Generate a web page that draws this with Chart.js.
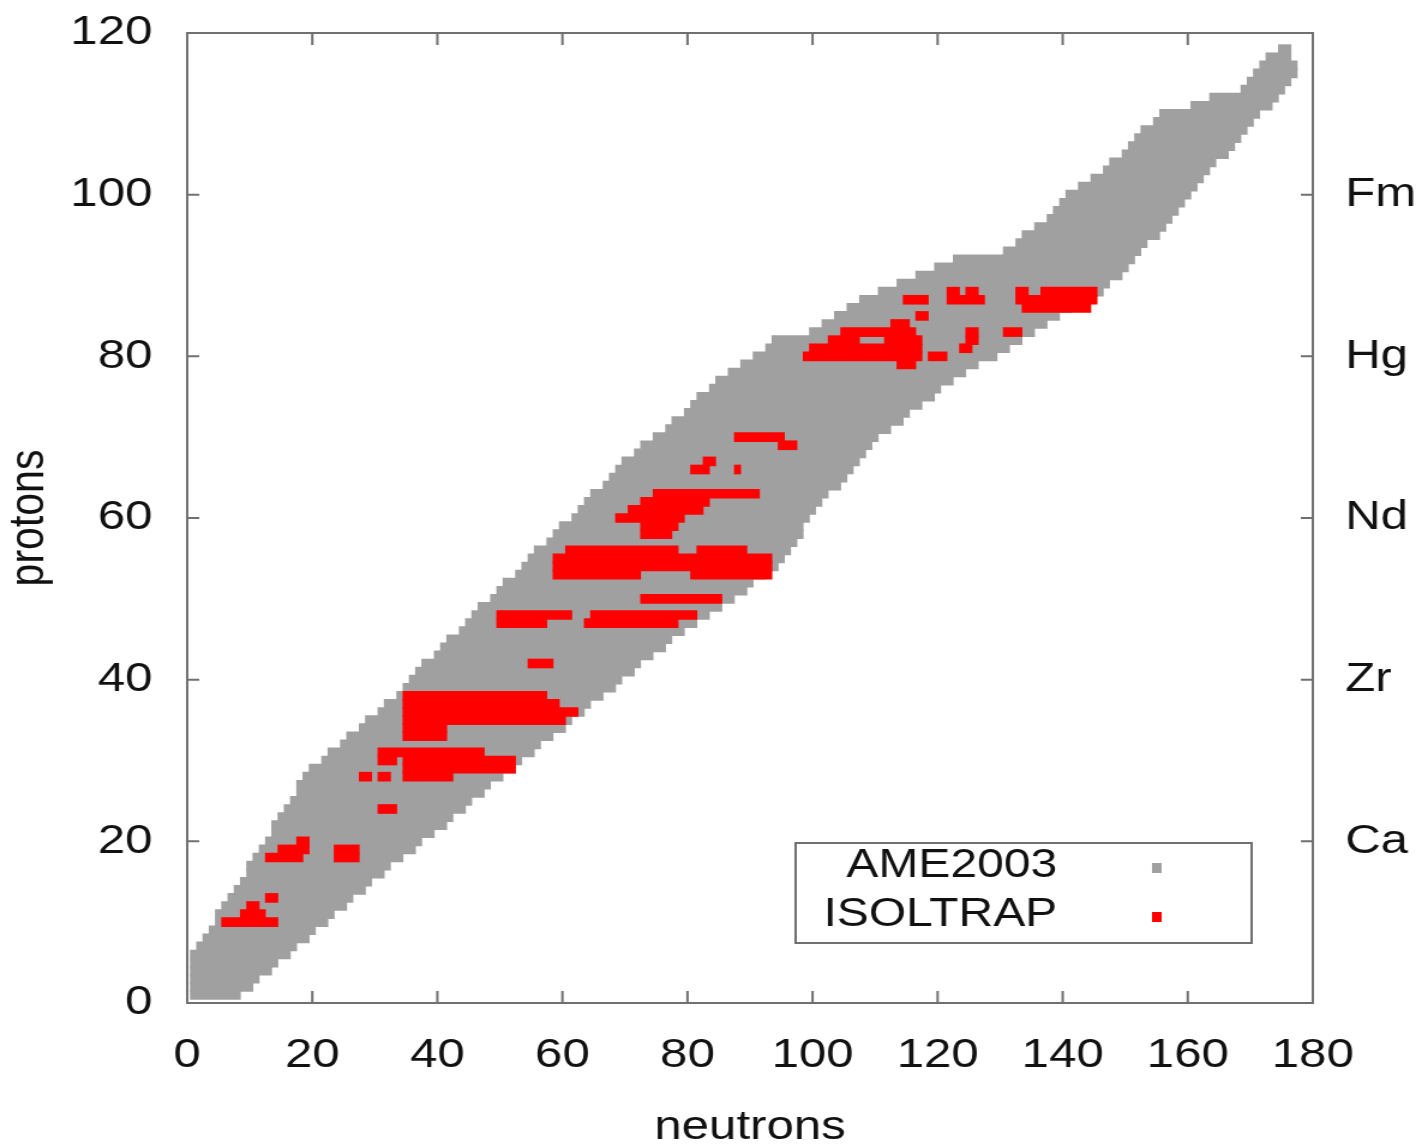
<!DOCTYPE html>
<html>
<head>
<meta charset="UTF-8"/>
<title>AME2003 / ISOLTRAP</title>
<script src="https://cdn.jsdelivr.net/npm/chart.js@4.4.0/dist/chart.umd.min.js"></script>
<style>
    html, body { margin: 0; padding: 0; background: #fff; overflow: hidden; }
    /* the source picture is stretched sideways, so draw narrower and widen the box */
    #chartBox {
        width: 1182px;
        height: 1148px;
        transform: scaleX(1.2);
        transform-origin: 0 0;
    }
</style>
</head>
<body>
<div id="chartBox">
    <canvas id="nuclideChart"></canvas>
</div>
<script>
    // AME2003: for each proton number Z (starting at 1) the first and last neutron number
    var ameFirstZ = 1;
    var ameNmin = [
        1, 1, 1, 1, 1, 1, 2, 3, 4, 5,
        5, 6, 7, 8, 9, 10, 10, 11, 12, 13,
        14, 14, 15, 16, 17, 18, 18, 19, 20, 22,
        23, 25, 26, 28, 29, 31, 32, 34, 35, 36,
        37, 38, 40, 41, 42, 44, 45, 46, 47, 49,
        50, 51, 53, 54, 55, 56, 58, 59, 60, 62,
        63, 64, 65, 67, 68, 69, 70, 72, 73, 75,
        77, 78, 80, 81, 82, 84, 85, 87, 89, 91,
        93, 94, 100, 102, 104, 106, 108, 111, 114, 117,
        120, 123, 131, 133, 134, 136, 138, 139, 140, 141,
        143, 145, 147, 148, 150, 151, 152, 153, 155, 156,
        161, 164, 169, 170, 171, 172, 173, 175
    ];
    var ameNmax = [
        8, 10, 11, 13, 14, 16, 17, 19, 20, 22,
        23, 25, 26, 28, 29, 31, 32, 34, 36, 37,
        39, 41, 42, 44, 45, 47, 48, 50, 52, 53,
        55, 56, 58, 60, 61, 63, 64, 66, 68, 69,
        71, 72, 74, 76, 77, 79, 81, 83, 85, 87,
        89, 90, 92, 94, 95, 96, 97, 98, 98, 99,
        100, 101, 102, 104, 105, 106, 107, 108, 109, 110,
        112, 114, 115, 117, 119, 120, 122, 124, 126, 129,
        131, 133, 135, 137, 139, 141, 143, 146, 147, 149,
        150, 151, 152, 153, 155, 156, 157, 158, 159, 160,
        161, 162, 163, 164, 166, 167, 168, 169, 170, 171,
        173, 174, 175, 176, 177, 177, 176, 176
    ];

    // ISOLTRAP: runs of measured nuclides, [Z, first N, last N]
    var isoltrapRows = [
        [10, 6, 14], [11, 9, 12], [12, 10, 11], [13, 13, 14],
        [18, 13, 18], [19, 15, 19], [20, 18, 19], [18, 24, 27], [19, 24, 27],
        [24, 31, 33],
        [28, 28, 29], [28, 31, 32], [28, 35, 42],
        [29, 35, 52], [30, 31, 33], [30, 35, 52], [31, 31, 47],
        [33, 35, 41], [34, 35, 41], [35, 35, 60], [36, 35, 62], [37, 35, 59], [38, 35, 57],
        [42, 55, 58],
        [47, 50, 57], [47, 64, 78], [48, 50, 61], [48, 65, 81],
        [50, 73, 85],
        [53, 59, 72], [53, 81, 93], [54, 59, 93], [55, 59, 93], [56, 61, 78], [56, 82, 89],
        [58, 73, 77], [59, 73, 78], [60, 69, 79], [61, 71, 82], [62, 73, 83], [63, 75, 91],
        [66, 81, 83], [66, 88, 88], [67, 83, 84],
        [69, 95, 97], [70, 88, 95],
        [79, 114, 116], [80, 99, 117], [80, 119, 121], [81, 100, 117], [81, 124, 125],
        [82, 103, 107], [82, 112, 117], [82, 125, 126],
        [83, 105, 116], [83, 125, 126], [83, 131, 133], [84, 113, 115], [85, 117, 118],
        [86, 134, 144], [87, 115, 118], [87, 122, 127], [87, 133, 145],
        [88, 122, 123], [88, 125, 126], [88, 133, 134], [88, 137, 145]
    ];

    // axes
    var xTicks = [0, 20, 40, 60, 80, 100, 120, 140, 160, 180];
    var yTicks = [0, 20, 40, 60, 80, 100, 120];
    var elementZ = [20, 40, 60, 80, 100];
    var elementNames = ['Ca', 'Zr', 'Nd', 'Hg', 'Fm'];

    var fontName = "'Liberation Sans', Arial, sans-serif";
    var inkColor = '#111';
    var frameColor = '#707070';

    // each nuclide is one cell wide: N-0.5 .. N+0.5
    var ameData = ameNmin.map(function (n, i) {
        return { y: ameFirstZ + i, x: [n - 0.5, ameNmax[i] + 0.5] };
    });
    var isoData = isoltrapRows.map(function (r) {
        return { y: r[0], x: [r[1] - 0.5, r[2] + 0.5] };
    });

    // plot frame and inward tick marks (gnuplot style)
    var framePlugin = {
        id: 'frame',
        afterDatasetsDraw: function (chart) {
            var a = chart.chartArea;
            var ctx = chart.ctx;
            var sx = chart.scales.x, sy = chart.scales.y;
            ctx.save();
            ctx.strokeStyle = frameColor;
            ctx.lineWidth = 2;
            ctx.strokeRect(a.left, a.top, a.right - a.left, a.bottom - a.top);
            ctx.beginPath();
            xTicks.slice(1, -1).forEach(function (v) {
                var px = sx.getPixelForValue(v);
                ctx.moveTo(px, a.bottom); ctx.lineTo(px, a.bottom - 12);
                ctx.moveTo(px, a.top); ctx.lineTo(px, a.top + 12);
            });
            yTicks.slice(1, -1).forEach(function (v) {
                var py = sy.getPixelForValue(v);
                ctx.moveTo(a.left, py); ctx.lineTo(a.left + 10, py);
                ctx.moveTo(a.right, py); ctx.lineTo(a.right - 10, py);
            });
            ctx.stroke();
            ctx.restore();
        }
    };

    // boxed key inside the plot, text right-justified, marker to the right
    var keyPlugin = {
        id: 'key',
        afterDraw: function (chart) {
            var a = chart.chartArea;
            var ctx = chart.ctx;
            var left = a.left + 507, right = a.left + 887;
            var top = a.top + 810, bottom = a.top + 910;
            ctx.save();
            ctx.strokeStyle = frameColor;
            ctx.lineWidth = 2;
            ctx.strokeRect(left, top, right - left, bottom - top);
            ctx.font = '40px ' + fontName;
            ctx.textAlign = 'right';
            ctx.textBaseline = 'middle';
            chart.data.datasets.slice().reverse().forEach(function (ds, i) {
                var ty = top + 23 + i * 49;
                ctx.fillStyle = inkColor;
                ctx.fillText(ds.label, a.left + 725, ty);
                ctx.fillStyle = ds.backgroundColor;
                ctx.fillRect(a.left + 804, ty - 3, 8, 10);
            });
            ctx.restore();
        }
    };

    var ctx = document.getElementById('nuclideChart').getContext('2d');
    var nuclideChart = new Chart(ctx, {
        type: 'bar',
        data: {
            datasets: [{
                label: 'ISOLTRAP',
                data: isoData,
                backgroundColor: '#ff0000',
                borderWidth: 0,
                barThickness: 9,
                grouped: false,
                order: 0
            }, {
                label: 'AME2003',
                data: ameData,
                backgroundColor: '#a0a0a0',
                borderWidth: 0,
                barThickness: 9,
                grouped: false,
                order: 1
            }]
        },
        options: {
            indexAxis: 'y',
            responsive: true,
            maintainAspectRatio: false,
            animation: false,
            layout: { padding: { top: 33, left: 0, right: 0, bottom: 0 } },
            plugins: {
                legend: { display: false },
                tooltip: { enabled: false }
            },
            scales: {
                x: {
                    type: 'linear',
                    position: 'bottom',
                    min: 0,
                    max: 180,
                    grid: { display: false, drawTicks: false },
                    border: { display: false },
                    afterBuildTicks: function (s) {
                        s.ticks = xTicks.map(function (v) { return { value: v }; });
                    },
                    ticks: {
                        font: { family: fontName, size: 41 },
                        color: inkColor,
                        padding: 28,
                        maxRotation: 0,
                        autoSkip: false
                    },
                    title: {
                        display: true,
                        text: 'neutrons',
                        font: { family: fontName, size: 41, lineHeight: 1 },
                        color: inkColor,
                        padding: 0
                    },
                    afterFit: function (s) { s.height = 145; }
                },
                y: {
                    type: 'linear',
                    position: 'left',
                    min: 0,
                    max: 120,
                    offset: false,
                    grid: { display: false, drawTicks: false },
                    border: { display: false },
                    afterBuildTicks: function (s) {
                        s.ticks = yTicks.map(function (v) { return { value: v }; });
                    },
                    ticks: {
                        // small line height so the top label does not push the plot down
                        font: { family: fontName, size: 41, lineHeight: 0.1 },
                        color: inkColor,
                        padding: 29
                    },
                    title: {
                        display: true,
                        text: 'protons',
                        font: { family: fontName, size: 41 },
                        color: inkColor,
                        padding: 0
                    },
                    afterFit: function (s) { s.width = 156; }
                },
                y2: {
                    type: 'linear',
                    position: 'right',
                    min: 0,
                    max: 120,
                    offset: false,
                    grid: { display: false, drawTicks: false },
                    border: { display: false },
                    afterBuildTicks: function (s) {
                        s.ticks = elementZ.map(function (v) { return { value: v }; });
                    },
                    ticks: {
                        font: { family: fontName, size: 41, lineHeight: 0.1 },
                        color: inkColor,
                        padding: 27,
                        callback: function (value) {
                            var k = elementZ.indexOf(value);
                            return k >= 0 ? elementNames[k] : '';
                        }
                    },
                    afterFit: function (s) { s.width = 88; }
                }
            }
        },
        plugins: [framePlugin, keyPlugin]
    });
</script>
</body>
</html>
